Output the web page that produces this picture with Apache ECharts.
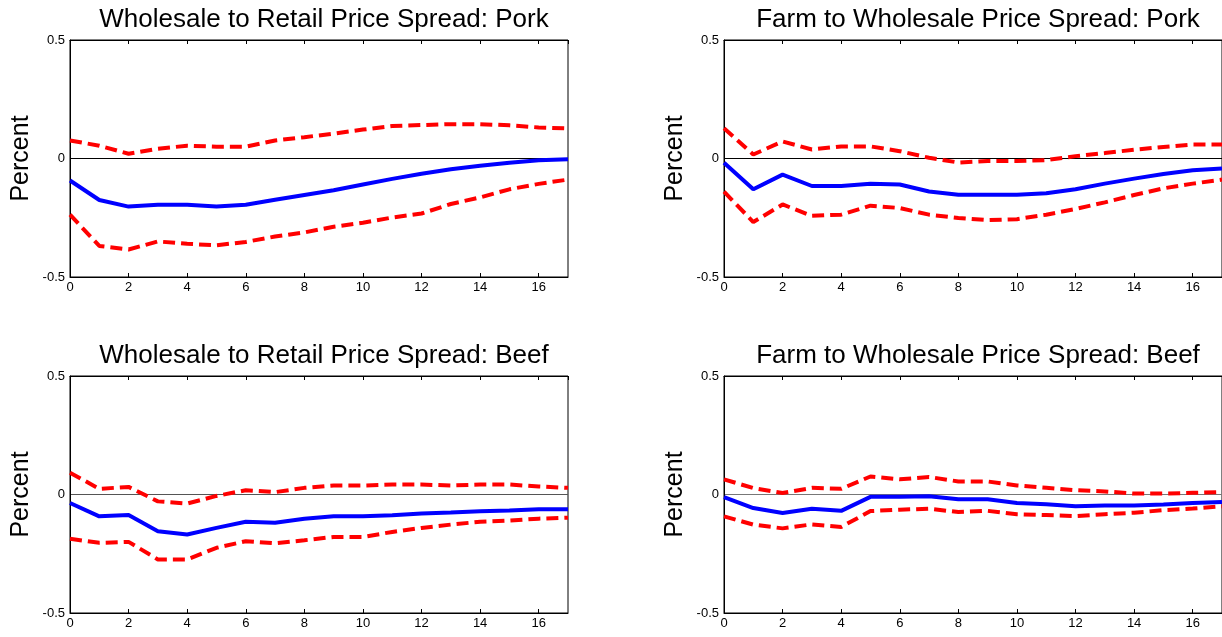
<!DOCTYPE html>
<html>
<head>
<meta charset="utf-8">
<script src="https://cdn.jsdelivr.net/npm/echarts@6/dist/echarts.min.js"></script>
<style>
html,body{margin:0;padding:0;background:#fff;}
#main{width:1222px;height:637px;}
</style>
</head>
<body>
<div id="main"></div>
<script>
// Horizon (quarters)
const horizons = [0,1,2,3,4,5,6,7,8,9,10,11,12,13,14,15,16,17];

const titles = [
  'Wholesale to Retail Price Spread: Pork',
  'Farm to Wholesale Price Spread: Pork',
  'Wholesale to Retail Price Spread: Beef',
  'Farm to Wholesale Price Spread: Beef'
];
const yAxisName = 'Percent';
const yTicks = [-0.5, 0, 0.5];
const xTickStep = 2;

// Panel 1: Wholesale to Retail, Pork
const wrPorkMid   = [-0.093,-0.175,-0.203,-0.195,-0.195,-0.203,-0.195,-0.174,-0.154,-0.134,-0.110,-0.086,-0.064,-0.045,-0.031,-0.018,-0.007,-0.003];
const wrPorkUpper = [0.076,0.054,0.020,0.041,0.054,0.050,0.050,0.076,0.090,0.105,0.122,0.137,0.141,0.145,0.145,0.140,0.131,0.127];
const wrPorkLower = [-0.237,-0.369,-0.384,-0.350,-0.360,-0.366,-0.352,-0.329,-0.312,-0.288,-0.271,-0.249,-0.232,-0.192,-0.164,-0.130,-0.107,-0.089];

// Panel 2: Farm to Wholesale, Pork
const fwPorkMid   = [-0.018,-0.130,-0.068,-0.116,-0.116,-0.107,-0.110,-0.139,-0.153,-0.153,-0.153,-0.147,-0.130,-0.106,-0.085,-0.065,-0.050,-0.042];
const fwPorkUpper = [0.128,0.017,0.072,0.038,0.051,0.051,0.031,0.003,-0.017,-0.011,-0.011,-0.007,0.010,0.023,0.037,0.049,0.059,0.059];
const fwPorkLower = [-0.140,-0.268,-0.194,-0.242,-0.237,-0.199,-0.209,-0.237,-0.251,-0.260,-0.256,-0.237,-0.213,-0.185,-0.154,-0.126,-0.106,-0.089];

// Panel 3: Wholesale to Retail, Beef
const wrBeefMid   = [-0.036,-0.092,-0.087,-0.155,-0.169,-0.141,-0.115,-0.119,-0.102,-0.092,-0.092,-0.088,-0.080,-0.076,-0.071,-0.067,-0.062,-0.062];
const wrBeefUpper = [0.092,0.024,0.032,-0.029,-0.038,-0.006,0.018,0.010,0.028,0.038,0.038,0.042,0.042,0.038,0.042,0.042,0.034,0.028];
const wrBeefLower = [-0.187,-0.204,-0.200,-0.274,-0.274,-0.225,-0.197,-0.206,-0.193,-0.179,-0.179,-0.158,-0.141,-0.127,-0.115,-0.110,-0.102,-0.098];

// Panel 4: Farm to Wholesale, Beef
const fwBeefMid   = [-0.011,-0.057,-0.078,-0.060,-0.069,-0.010,-0.010,-0.007,-0.020,-0.020,-0.036,-0.041,-0.050,-0.046,-0.046,-0.042,-0.036,-0.032];
const fwBeefUpper = [0.064,0.027,0.006,0.028,0.024,0.076,0.064,0.074,0.055,0.055,0.038,0.028,0.018,0.013,0.004,0.004,0.007,0.010];
const fwBeefLower = [-0.092,-0.127,-0.143,-0.126,-0.137,-0.070,-0.064,-0.060,-0.074,-0.069,-0.083,-0.087,-0.091,-0.083,-0.077,-0.066,-0.059,-0.050];

const panels = [
  {mid: wrPorkMid, up: wrPorkUpper, lo: wrPorkLower},
  {mid: fwPorkMid, up: fwPorkUpper, lo: fwPorkLower},
  {mid: wrBeefMid, up: wrBeefUpper, lo: wrBeefLower},
  {mid: fwBeefMid, up: fwBeefUpper, lo: fwBeefLower}
];

const layout = [
  {left: 70,  top: 40},
  {left: 724, top: 40},
  {left: 70,  top: 376},
  {left: 724, top: 376}
];
const W = 498, H = 237;
const zeroColors = ['#000', '#000', '#555', '#777'];

const FONT = '"Liberation Sans", Arial, Helvetica, sans-serif';

const toPairs = arr => horizons.map((h, i) => [h, arr[i]]);

const option = {
  animation: false,
  backgroundColor: '#fff',
  title: [],
  grid: [],
  xAxis: [],
  yAxis: [],
  series: []
};

layout.forEach((g, i) => {
  option.title.push({
    text: titles[i],
    left: g.left + W / 2,
    top: g.top - 38,
    textAlign: 'center',
    textStyle: {fontFamily: FONT, fontSize: 26, fontWeight: 'normal', color: '#000'}
  });
  option.grid.push({
    left: g.left, top: g.top, width: W, height: H,
    show: true, borderColor: '#000', borderWidth: 1, backgroundColor: 'transparent'
  });
  // bottom x axis
  option.xAxis.push({
    type: 'value', gridIndex: i, min: horizons[0], max: horizons[horizons.length - 1], interval: xTickStep,
    position: 'bottom',
    axisLine: {show: true, onZero: false, lineStyle: {color: '#000', width: 1}},
    axisTick: {show: true, inside: true, length: 4, lineStyle: {color: '#000'}},
    axisLabel: {fontFamily: FONT, fontSize: 13, color: '#000', margin: 4, showMaxLabel: false},
    splitLine: {show: false}
  });
  // top x axis (ticks only)
  option.xAxis.push({
    type: 'value', gridIndex: i, min: horizons[0], max: horizons[horizons.length - 1], interval: xTickStep,
    position: 'top',
    axisLine: {show: true, onZero: false, lineStyle: {color: '#000', width: 1}},
    axisTick: {show: true, inside: true, length: 4, lineStyle: {color: '#000'}},
    axisLabel: {show: false},
    splitLine: {show: false}
  });
  option.yAxis.push({
    type: 'value', gridIndex: i, min: yTicks[0], max: yTicks[yTicks.length - 1], interval: 0.5,
    name: yAxisName, nameLocation: 'middle', nameGap: 36, nameRotate: 90,
    nameTextStyle: {fontFamily: FONT, fontSize: 25, color: '#000'},
    axisLine: {show: true, onZero: false, lineStyle: {color: '#000', width: 1}},
    axisTick: {show: false},
    axisLabel: {fontFamily: FONT, fontSize: 13, color: '#000', margin: 5},
    splitLine: {show: true, lineStyle: {color: zeroColors[i], width: 1}}
  });
  const p = panels[i];
  const xIdx = i * 2;
  option.series.push({
    type: 'line', xAxisIndex: xIdx, yAxisIndex: i, data: toPairs(p.up),
    symbol: 'none', lineStyle: {color: '#ff0000', width: 4, type: [12, 6]}, z: 3
  });
  option.series.push({
    type: 'line', xAxisIndex: xIdx, yAxisIndex: i, data: toPairs(p.lo),
    symbol: 'none', lineStyle: {color: '#ff0000', width: 4, type: [12, 6]}, z: 3
  });
  option.series.push({
    type: 'line', xAxisIndex: xIdx, yAxisIndex: i, data: toPairs(p.mid),
    symbol: 'none', lineStyle: {color: '#0000ff', width: 4}, z: 4
  });
});

const chart = echarts.init(document.getElementById('main'), null, {renderer: 'canvas'});
chart.setOption(option);
</script>
</body>
</html>
